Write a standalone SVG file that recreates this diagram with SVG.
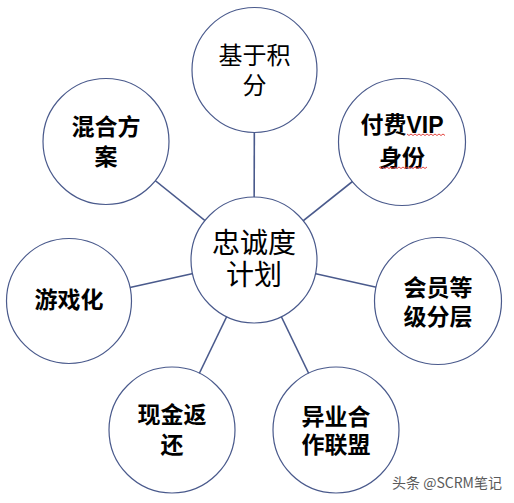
<svg xmlns="http://www.w3.org/2000/svg" width="514" height="503" viewBox="0 0 514 503">
<style>
.bg{fill:#ffffff}
.c{fill:#ffffff;stroke:#4a5a8c;stroke-width:1.2}
.ln{stroke:#4a5a8c;stroke-width:1.6;fill:none}
.t{font-family:"Liberation Sans","Noto Sans CJK SC",sans-serif;fill:#000;text-anchor:middle}
.r{font-weight:normal}
.b{font-weight:bold;font-size:23px}
.w{fill:none;stroke:#e0302a;stroke-width:0.9}
.wm{font-family:"Noto Sans CJK SC","Liberation Sans",sans-serif;font-size:14px;fill:#5a5a5a}
</style>
<rect class="bg" x="0" y="0" width="514" height="503"/>
<g id="connectors">
<line class="ln" x1="254" y1="260" x2="254.5" y2="70"/>
<line class="ln" x1="254" y1="260" x2="402" y2="142"/>
<line class="ln" x1="254" y1="260" x2="438" y2="301"/>
<line class="ln" x1="254" y1="260" x2="336" y2="430"/>
<line class="ln" x1="254" y1="260" x2="172" y2="430"/>
<line class="ln" x1="254" y1="260" x2="69" y2="301"/>
<line class="ln" x1="254" y1="260" x2="106" y2="141"/>
</g>
<g id="center">
<circle class="c" cx="254" cy="260" r="63"/>
<text class="t r" x="254" y="253" font-size="28">忠诚度</text>
<text class="t r" x="254" y="285" font-size="28">计划</text>
</g>
<g id="points">
<circle class="c" cx="254.5" cy="70" r="62.5"/>
<text class="t r" x="254.5" y="64" font-size="24">基于积</text>
<text class="t r" x="254.5" y="94" font-size="24">分</text>
</g>
<g id="vip">
<circle class="c" cx="402" cy="142" r="63.5"/>
<text class="t b" x="402" y="133">付费VIP</text>
<text class="t b" x="402" y="166">身份</text>
<path class="w" d="M407 134 l2 1.5 l2 -1.5 l2 1.5 l2 -1.5 l2 1.5 l2 -1.5 l2 1.5 l2 -1.5 l2 1.5 l2 -1.5 l2 1.5 l2 -1.5 l2 1.5 l2 -1.5 l2 1.5 l2 -1.5 l2 1.5 l2 -1.5 l2 1.5"/>
<path class="w" d="M379 167 l2 1.5 l2 -1.5 l2 1.5 l2 -1.5 l2 1.5 l2 -1.5 l2 1.5 l2 -1.5 l2 1.5 l2 -1.5 l2 1.5 l2 -1.5 l2 1.5 l2 -1.5 l2 1.5 l2 -1.5 l2 1.5 l2 -1.5 l2 1.5 l2 -1.5 l2 1.5 l2 -1.5 l2 1.5 l2 -1.5"/>
</g>
<g id="tiers">
<circle class="c" cx="438" cy="301" r="63.5"/>
<text class="t b" x="438" y="296">会员等</text>
<text class="t b" x="438" y="325">级分层</text>
</g>
<g id="alliance">
<circle class="c" cx="336" cy="430" r="63"/>
<text class="t b" x="336" y="425">异业合</text>
<text class="t b" x="336" y="453">作联盟</text>
</g>
<g id="cashback">
<circle class="c" cx="172" cy="430" r="63"/>
<text class="t b" x="172" y="423">现金返</text>
<text class="t b" x="172" y="453">还</text>
</g>
<g id="gamification">
<circle class="c" cx="69" cy="301" r="62.5"/>
<text class="t b" x="69" y="308">游戏化</text>
</g>
<g id="hybrid">
<circle class="c" cx="106" cy="141.5" r="63"/>
<text class="t b" x="106" y="135">混合方</text>
<text class="t b" x="106" y="165">案</text>
</g>
<text class="wm" x="392" y="488">头条 @SCRM笔记</text>
</svg>
